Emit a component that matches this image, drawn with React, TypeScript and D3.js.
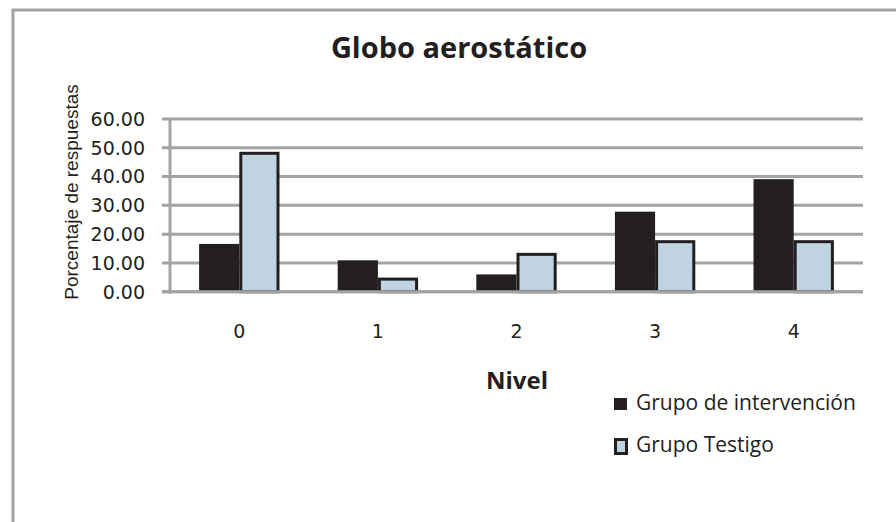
import * as React from 'react';
import * as d3 from 'd3';

const niveles = ['0', '1', '2', '3', '4'];
const grupoIntervencion = [16.6, 10.9, 6.0, 27.8, 39.1];
const grupoTestigo = [48.6, 4.9, 13.5, 17.9, 17.9];
const yTicks = [0, 10, 20, 30, 40, 50, 60];
const seriesNames = ['Grupo de intervención', 'Grupo Testigo'];

const W = 896;
const H = 522;
const plot = { left: 170, right: 863, top: 119, bottom: 291.7 };

const dark = '#231f20';
const light = '#bfd3e0';
const grid = '#a3a3a3';

export default function App() {
    const x = d3.scaleBand<string>()
        .domain(niveles)
        .range([plot.left, plot.right])
        .paddingInner(0.42)
        .paddingOuter(0.21);
    const sub = d3.scaleBand<number>()
        .domain([0, 1])
        .range([0, x.bandwidth()]);
    const y = d3.scaleLinear()
        .domain([0, 60])
        .range([plot.bottom, plot.top]);

    const tickFont = '"DejaVu Sans", sans-serif';
    const textFont = '"Open Sans", Lato, sans-serif';

    return (
        <svg width={W} height={H} style={{ position: 'absolute', left: 0, top: 0, background: '#fff' }}>
            {/* frame */}
            <path d={`M13,${H + 5} L13,10 L${W + 5},10`} fill="none" stroke={grid} strokeWidth={3} />

            <text x={459} y={58} textAnchor="middle" fontFamily={textFont} fontWeight="bold" fontSize={29} fill={dark}>
                Globo aerostático
            </text>

            {/* grid + y ticks */}
            {yTicks.map(t => (
                <g key={t}>
                    <line x1={plot.left - 8} x2={plot.right} y1={y(t)} y2={y(t)} stroke={grid} strokeWidth={3} />
                    <text x={145} y={y(t)} dy="0.36em" textAnchor="end" fontFamily={tickFont} fontSize={19} fill={dark}>
                        {t.toFixed(2)}
                    </text>
                </g>
            ))}
            <line x1={plot.left} x2={plot.left} y1={plot.top} y2={plot.bottom + 2} stroke={grid} strokeWidth={3} />

            {/* bars */}
            {niveles.map((n, i) => {
                const x0 = x(n) as number;
                const bw = sub.bandwidth();
                return (
                    <g key={n}>
                        <rect x={x0 + (sub(0) as number)} y={y(grupoIntervencion[i])} width={bw}
                            height={y(0) - y(grupoIntervencion[i])} fill={dark} />
                        <rect x={x0 + (sub(1) as number) + 1.5} y={y(grupoTestigo[i]) + 1.5} width={bw - 3}
                            height={y(0) - y(grupoTestigo[i]) - 1.5} fill={light} stroke={dark} strokeWidth={3} />
                    </g>
                );
            })}
            <line x1={plot.left - 8} x2={plot.right} y1={y(0)} y2={y(0)} stroke={grid} strokeWidth={3} />

            {/* x labels */}
            {niveles.map(n => (
                <text key={n} x={(x(n) as number) + x.bandwidth() / 2} y={338} textAnchor="middle"
                    fontFamily={tickFont} fontSize={19} fill={dark}>{n}</text>
            ))}
            <text x={517} y={389} textAnchor="middle" fontFamily={textFont} fontWeight="bold" fontSize={24} fill={dark}>
                Nivel
            </text>

            <text transform={`translate(78,192) rotate(-90)`} textAnchor="middle"
                fontFamily='"Liberation Sans", Arial, sans-serif' fontSize={19} fill={dark}>
                Porcentaje de respuestas
            </text>

            {/* legend */}
            <rect x={614} y={398} width={13} height={12} fill={dark} />
            <text x={636} y={410} fontFamily={textFont} fontSize={21} fill={dark}>{seriesNames[0]}</text>
            <rect x={615.5} y={439.5} width={11} height={14} fill={light} stroke={dark} strokeWidth={3} />
            <text x={636} y={452} fontFamily={textFont} fontSize={21} fill={dark}>{seriesNames[1]}</text>
        </svg>
    );
}
